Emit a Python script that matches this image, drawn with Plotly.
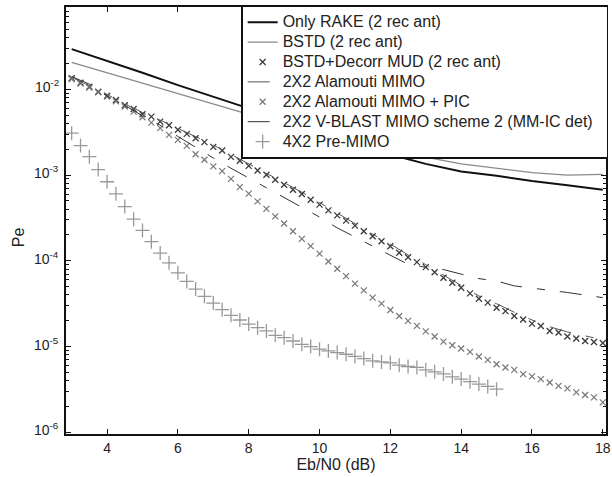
import plotly.graph_objects as go

# ---------------- data ----------------
x_line = [3, 4, 5, 6, 7, 7.5, 8, 9, 10, 11, 12, 13, 14, 15, 16, 17, 18]
rake = [2.94e-2, 2.15e-2, 1.56e-2, 1.12e-2, 8.2e-3, 6.9e-3, 6.0e-3, 4.5e-3, 3.4e-3,
        2.4e-3, 1.74e-3, 1.35e-3, 1.10e-3, 9.8e-4, 8.5e-4, 7.6e-4, 6.75e-4]
bstd = [2.06e-2, 1.56e-2, 1.19e-2, 8.9e-3, 6.8e-3, 5.9e-3, 5.1e-3, 4.0e-3, 3.16e-3,
        2.5e-3, 2.05e-3, 1.62e-3, 1.35e-3, 1.2e-3, 1.07e-3, 1.0e-3, 1.02e-3]

x_q = [3 + 0.25 * i for i in range(61)]
mud = [1.343e-2, 1.194e-2, 1.072e-2, 9.38e-3, 8.43e-3, 7.52e-3, 6.52e-3, 5.90e-3,
       5.12e-3, 4.80e-3, 4.20e-3, 3.81e-3, 3.37e-3, 3.02e-3, 2.69e-3, 2.42e-3,
       2.13e-3, 1.93e-3, 1.63e-3, 1.47e-3, 1.28e-3, 1.13e-3, 1.007e-3, 8.81e-4,
       7.71e-4, 6.75e-4, 6.01e-4, 5.16e-4, 4.52e-4, 3.87e-4, 3.39e-4, 2.94e-4,
       2.57e-4, 2.21e-4, 1.93e-4, 1.69e-4, 1.48e-4, 1.24e-4, 1.10e-4, 9.64e-5,
       8.43e-5, 7.36e-5, 6.34e-5, 5.55e-5, 4.85e-5, 4.17e-5, 3.61e-5, 3.25e-5,
       2.84e-5, 2.59e-5, 2.27e-5, 2.07e-5, 1.85e-5, 1.74e-5, 1.52e-5, 1.46e-5,
       1.31e-5, 1.24e-5, 1.16e-5, 1.13e-5, 1.10e-5]
pic = [1.32e-2, 1.17e-2, 1.05e-2, 9.23e-3, 8.22e-3, 7.24e-3, 6.31e-3, 5.50e-3,
       4.72e-3, 4.09e-3, 3.52e-3, 2.94e-3, 2.57e-3, 2.19e-3, 1.75e-3, 1.51e-3,
       1.26e-3, 1.11e-3, 9.02e-4, 7.24e-4, 6.07e-4, 4.93e-4, 4.03e-4, 3.30e-4,
       2.72e-4, 2.21e-4, 1.80e-4, 1.48e-4, 1.21e-4, 9.82e-5, 8.07e-5, 6.62e-5,
       5.41e-5, 4.52e-5, 3.72e-5, 3.16e-5, 2.67e-5, 2.27e-5, 1.99e-5, 1.74e-5,
       1.50e-5, 1.31e-5, 1.14e-5, 1.035e-5, 9.48e-6, 8.65e-6, 7.66e-6, 6.98e-6,
       6.22e-6, 5.70e-6, 5.35e-6, 4.76e-6, 4.48e-6, 4.17e-6, 3.81e-6, 3.48e-6,
       3.25e-6, 2.92e-6, 2.72e-6, 2.55e-6, 2.23e-6]

x_h = [3 + 0.5 * i for i in range(31)]
alamouti = [1.38e-2, 1.10e-2, 8.71e-3, 6.76e-3, 5.37e-3, 4.37e-3, 3.51e-3, 2.82e-3,
            2.24e-3, 1.74e-3, 1.35e-3, 1.06e-3, 8.13e-4, 6.31e-4, 4.79e-4, 3.59e-4,
            2.72e-4, 2.04e-4, 1.57e-4, 1.17e-4, 9.02e-5, 6.84e-5, 5.19e-5, 3.89e-5,
            3.16e-5, 2.51e-5, 2.04e-5, 1.70e-5, 1.48e-5, 1.32e-5, 1.20e-5]
vblast = [1.41e-2, 1.15e-2, 8.32e-3, 6.5e-3, 4.9e-3, 3.8e-3, 2.82e-3, 2.1e-3,
          1.58e-3, 1.2e-3, 9.2e-4, 7.2e-4, 5.4e-4, 4.17e-4, 3.24e-4, 2.42e-4,
          1.9e-4, 1.46e-4, 1.15e-4, 9.1e-5, 8.4e-5, 7.9e-5, 7.0e-5, 6.2e-5,
          5.8e-5, 5.1e-5, 4.8e-5, 4.55e-5, 4.27e-5, 3.98e-5, 3.72e-5]

x_p = [3 + 0.25 * i for i in range(49)]
premimo = [3.08e-3, 2.21e-3, 1.64e-3, 1.16e-3, 8.36e-4, 6.04e-4, 4.29e-4, 3.06e-4,
           2.26e-4, 1.67e-4, 1.23e-4, 9.48e-5, 7.24e-5, 5.75e-5, 4.68e-5, 3.85e-5,
           3.21e-5, 2.69e-5, 2.31e-5, 2.04e-5, 1.83e-5, 1.66e-5, 1.52e-5, 1.35e-5,
           1.27e-5, 1.16e-5, 1.06e-5, 1.0e-5, 9.31e-6, 8.89e-6, 8.51e-6, 8.13e-6,
           7.66e-6, 7.24e-6, 6.81e-6, 6.62e-6, 6.46e-6, 6.07e-6, 5.85e-6, 5.70e-6,
           5.35e-6, 5.07e-6, 4.79e-6, 4.44e-6, 4.17e-6, 3.89e-6, 3.65e-6, 3.43e-6,
           3.18e-6]

names = ["Only RAKE (2 rec ant)", "BSTD (2 rec ant)", "BSTD+Decorr MUD (2 rec ant)",
         "2X2 Alamouti MIMO", "2X2 Alamouti MIMO + PIC",
         "2X2 V-BLAST MIMO scheme 2 (MM-IC det)", "4X2 Pre-MIMO"]
x_ticks = [4, 6, 8, 10, 12, 14, 16, 18]
y_exponents = [-6, -5, -4, -3, -2]

FONT = "Liberation Sans, Arial, Helvetica, sans-serif"
DASHDOT = "22px,15px,8px,15px"


def lbl(s, pad=""):
    return '<span style="font-size:16px">' + s + pad + '</span>'


fig = go.Figure()
fig.add_trace(go.Scatter(x=x_line, y=rake, mode="lines", name=lbl(names[0]),
                         line=dict(color="#111111", width=2)))
fig.add_trace(go.Scatter(x=x_line, y=bstd, mode="lines", name=lbl(names[1]),
                         line=dict(color="#8a8a8a", width=1.3)))
fig.add_trace(go.Scatter(x=x_q, y=mud, mode="markers", name=lbl(names[2]),
                         marker=dict(symbol="x-thin", size=6,
                                     line=dict(width=1.3, color="#3a3a3a"))))
fig.add_trace(go.Scatter(x=x_h, y=alamouti, mode="lines", name=lbl(names[3]),
                         line=dict(color="#555555", width=1, dash=DASHDOT)))
fig.add_trace(go.Scatter(x=x_q, y=pic, mode="markers", name=lbl(names[4]),
                         marker=dict(symbol="x-thin", size=6,
                                     line=dict(width=1.2, color="#777777"))))
fig.add_trace(go.Scatter(x=x_h, y=vblast, mode="lines", name=lbl(names[5], "&nbsp;&nbsp;"),
                         line=dict(color="#333333", width=1, dash=DASHDOT)))
fig.add_trace(go.Scatter(x=x_p, y=premimo, mode="markers", name=lbl(names[6]),
                         marker=dict(symbol="cross-thin", size=10,
                                     line=dict(width=1.3, color="#999999"))))

# y tick labels (log axis: annotation y given as exponent) and y title
annotations = []
for e in y_exponents:
    annotations.append(dict(
        text="10<sup>" + str(e) + "</sup>", xref="paper", yref="y", x=0, y=e,
        xanchor="right", yanchor="middle", xshift=-5, yshift=3, showarrow=False,
        font=dict(size=14, family=FONT, color="#222222")))
annotations.append(dict(
    text="Pe", xref="paper", yref="paper", x=0, y=0.461, xanchor="center",
    yanchor="middle", xshift=-48, textangle=-90, showarrow=False,
    font=dict(size=16, family=FONT, color="#222222")))

fig.update_layout(
    width=612, height=477,
    margin=dict(l=66, r=6, t=7, b=43, autoexpand=False),
    paper_bgcolor="white", plot_bgcolor="white",
    font=dict(family=FONT, size=14, color="#222222"),
    showlegend=True,
    legend=dict(x=1.004, y=1.003, xanchor="right", yanchor="top",
                bgcolor="white", bordercolor="#111111", borderwidth=1.5,
                font=dict(size=13, family=FONT, color="#222222"),
                tracegroupgap=0, itemwidth=30),
    annotations=annotations,
)
fig.update_xaxes(
    range=[2.84, 18.09], tickvals=x_ticks, ticktext=[str(v) for v in x_ticks],
    ticks="inside", ticklen=5, tickwidth=1, tickcolor="#111111",
    showline=True, linecolor="#111111", linewidth=1.6, mirror="ticks",
    showgrid=False, zeroline=False,
    title=dict(text="Eb/N0 (dB)", font=dict(size=16), standoff=3),
    tickfont=dict(size=14),
)
fig.update_yaxes(
    type="log", range=[-6.02, -1.04], dtick=1, showticklabels=False,
    ticks="inside", ticklen=5, tickwidth=1, tickcolor="#111111",
    minor=dict(ticks="inside", ticklen=3, dtick="D1", tickcolor="#111111", showgrid=False),
    showline=True, linecolor="#111111", linewidth=1.6, mirror="ticks",
    showgrid=False, zeroline=False,
)

fig.write_html("out.html", config={"displayModeBar": False},
               post_script="document.body.style.margin='0';document.body.style.overflow='hidden';")
